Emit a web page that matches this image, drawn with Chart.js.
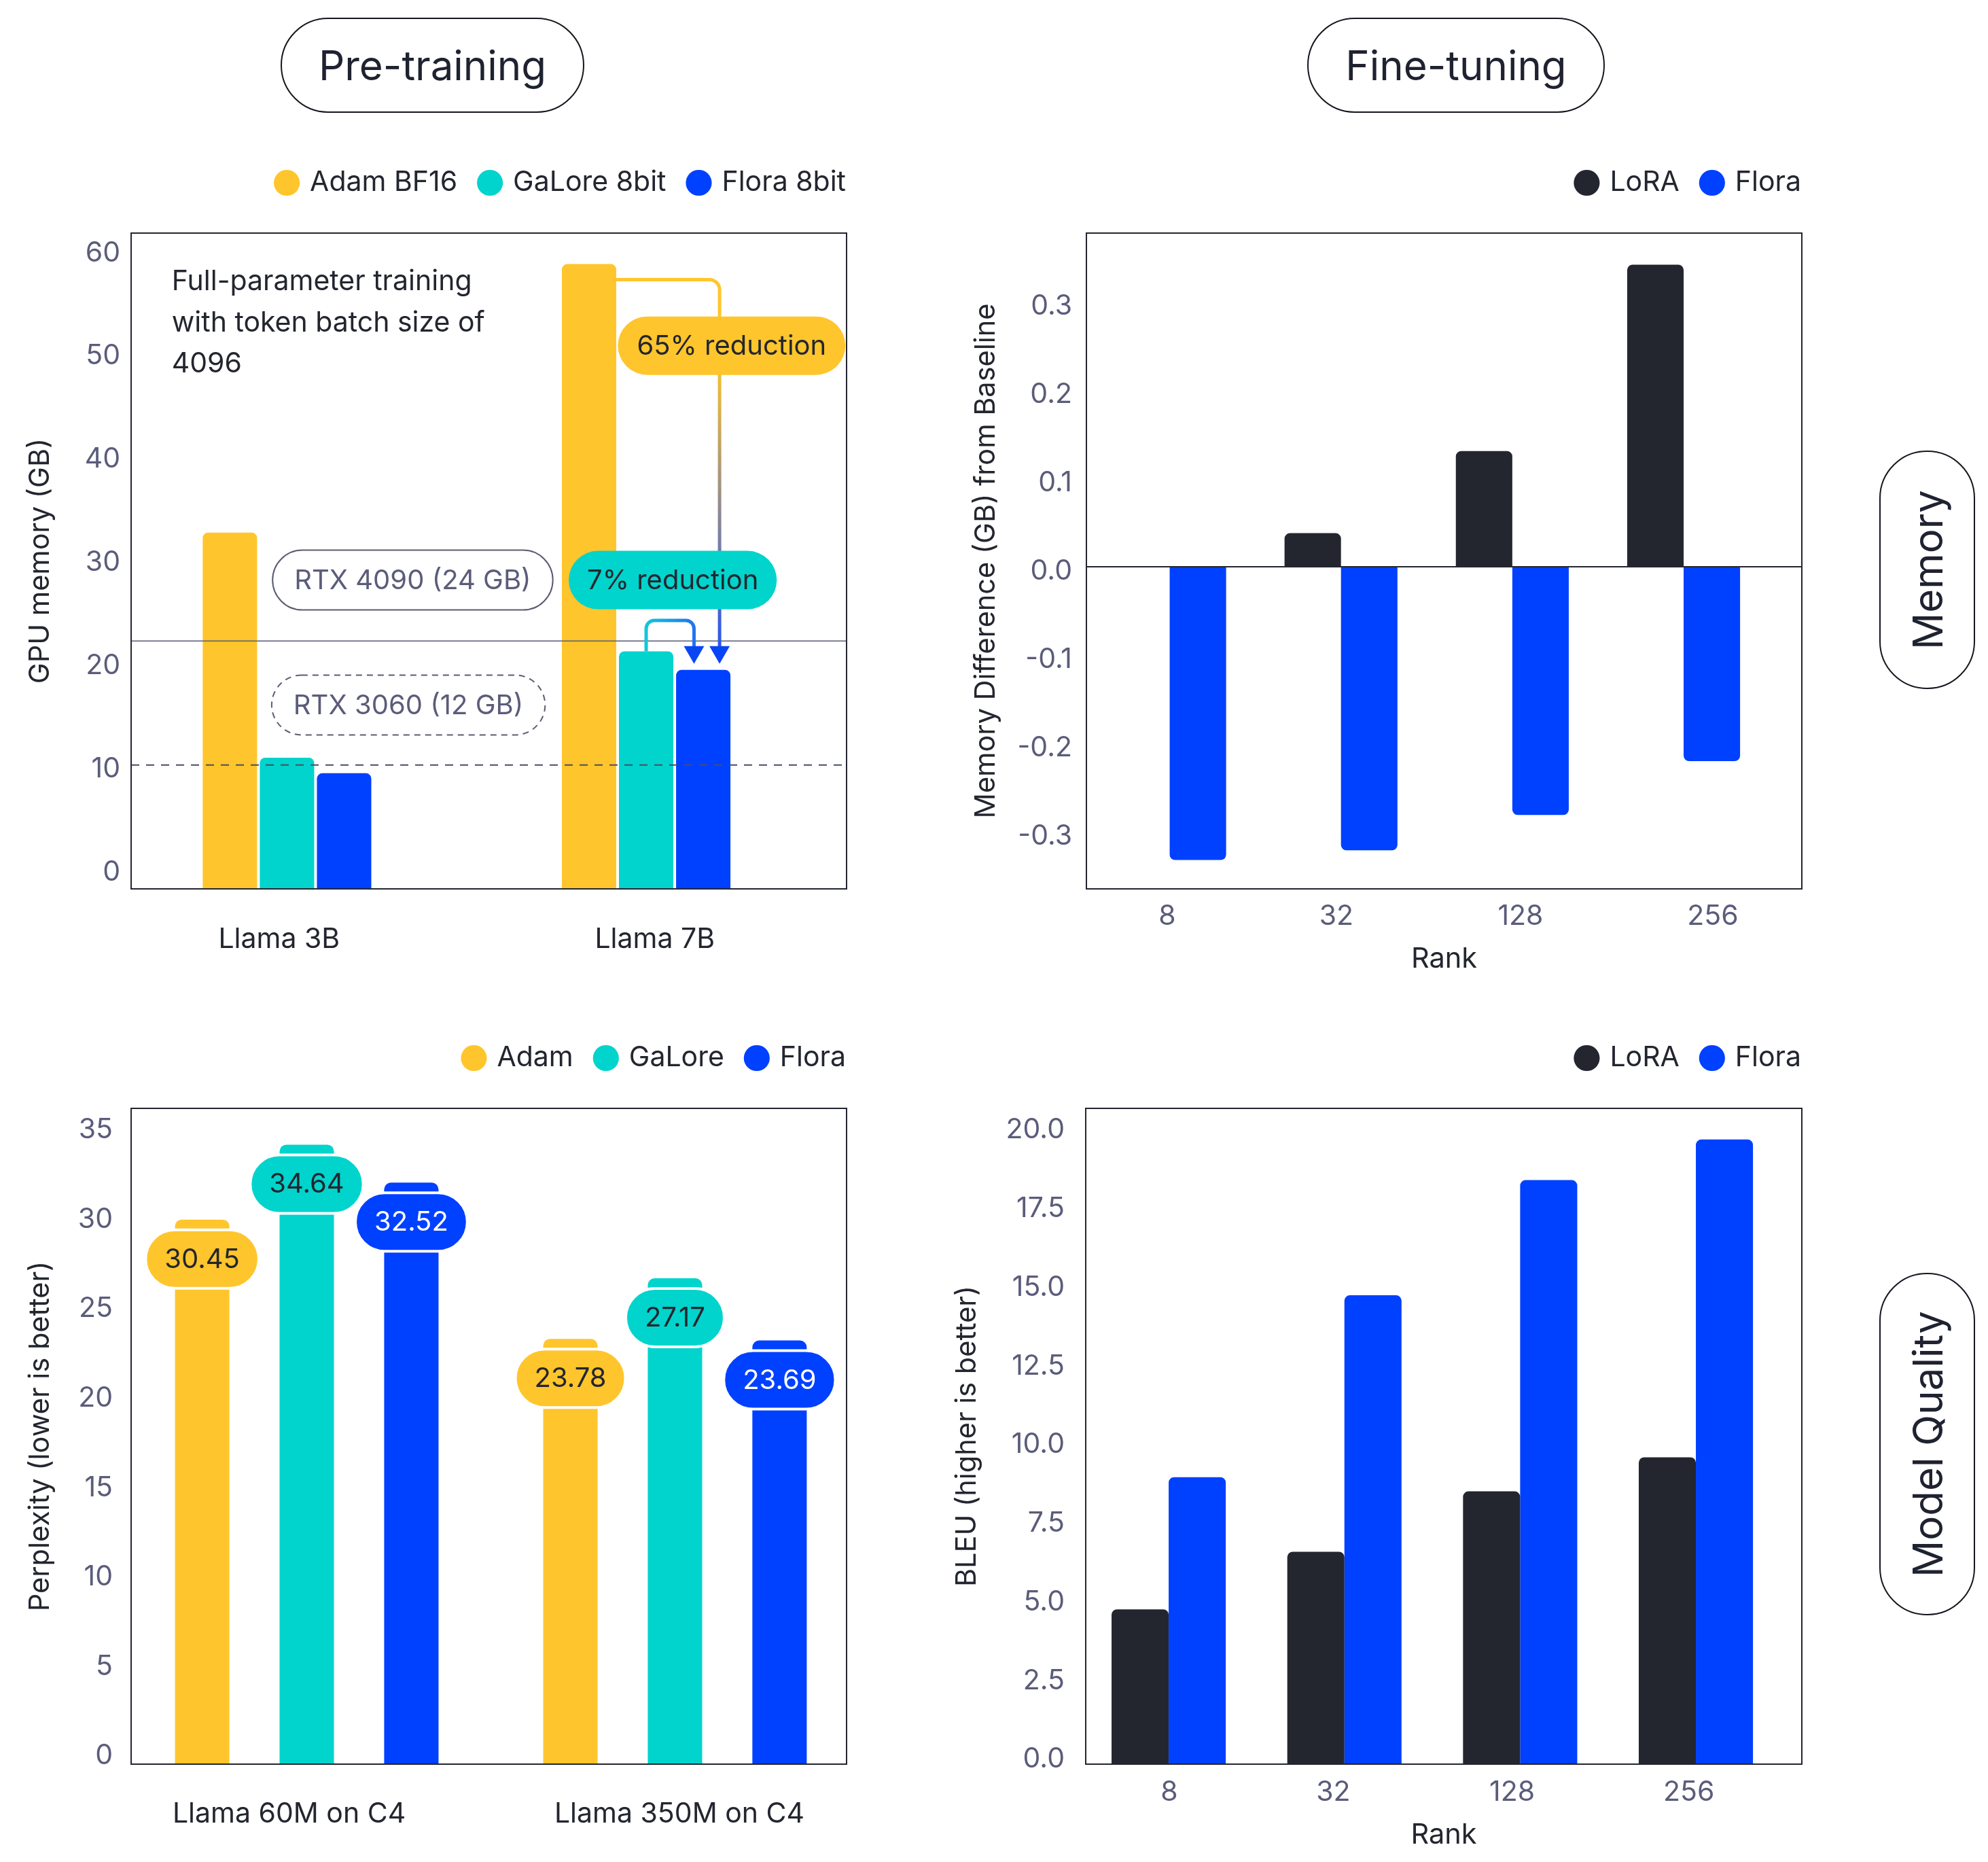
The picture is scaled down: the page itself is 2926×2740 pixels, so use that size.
<!DOCTYPE html>
<html>
<head>
<meta charset="utf-8">
<script src="https://cdn.jsdelivr.net/npm/chart.js@4.4.0/dist/chart.umd.min.js"></script>
<style>
  html, body { margin: 0; background: #fff; }
  body { position: relative; width: 2926px; height: 2740px; overflow: hidden; font-family: Inter, 'Noto Sans', sans-serif; }
  .panel { position: absolute; }
  .tag {
    position: absolute; box-sizing: border-box; border: 2.5px solid #15171f; border-radius: 70px;
    display: flex; align-items: center; justify-content: center;
    font-size: 60px; color: #1f2230;
  }
  .tag.v span { writing-mode: vertical-rl; transform: rotate(180deg); }
</style>
</head>
<body>
<div class="tag" style="left:413px;top:26px;width:447px;height:140px">Pre-training</div>
<div class="tag" style="left:1924px;top:26px;width:438px;height:140px">Fine-tuning</div>
<div class="tag v" style="left:2766px;top:663px;width:141px;height:351px"><span>Memory</span></div>
<div class="tag v" style="left:2766px;top:1873px;width:141px;height:504px"><span>Model Quality</span></div>

<div class="panel" style="left:0;top:200px"><canvas id="preMem" width="1300" height="1300"></canvas></div>
<div class="panel" style="left:1380px;top:200px"><canvas id="ftMem" width="1300" height="1300"></canvas></div>
<div class="panel" style="left:0;top:1480px"><canvas id="prePpl" width="1300" height="1260"></canvas></div>
<div class="panel" style="left:1380px;top:1480px"><canvas id="ftBleu" width="1300" height="1260"></canvas></div>

<script>
// --- data ---
const preCategories = ['Llama 3B', 'Llama 7B'];
const adamBF16 = [34.5, 60.5];
const galore8bit = [12.7, 23.0];
const flora8bit = [11.2, 21.2];
const gpuLimits = [24, 12]; // RTX 4090, RTX 3060

const ranks = ['8', '32', '128', '256'];
const loraMemory = [0, 0.038, 0.131, 0.342];
const floraMemory = [-0.332, -0.321, -0.281, -0.220];

const pplCategories = ['Llama 60M on C4', 'Llama 350M on C4'];
const adamPpl = [30.45, 23.78];
const galorePpl = [34.64, 27.17];
const floraPpl = [32.52, 23.69];

const loraBleu = [4.92, 6.75, 8.67, 9.75];
const floraBleu = [9.12, 14.9, 18.56, 19.85];

// where the x tick labels sit (in bar-group units), as in the original figure
const preTickPos = [-0.022, 1.024];
const memTickPos = [-0.014, 0.973, 2.048, 3.170];
const pplTickPos = [-0.048, 1.012];
const bleuTickPos = [0.003, 0.937, 1.954, 2.960];

// --- style ---
const FONT = "Inter, 'Noto Sans', sans-serif";
const YELLOW = '#FFC52C';
const TEAL = '#00D4CC';
const BLUE = '#0040FF';
const DARK = '#23262F';
const TICK = '#5B5C7A';

Chart.defaults.font.family = FONT;
Chart.defaults.color = DARK;

const points = arr => arr.map((v, i) => ({ x: i, y: v }));
// bar width is measured against the smallest gap between groups or ticks
const tickGap = t => Math.min(1, ...t.slice(1).map((v, i) => v - t[i]));

function roundRectPath(ctx, x, y, w, h, r) {
  ctx.beginPath();
  ctx.moveTo(x + r, y);
  ctx.arcTo(x + w, y, x + w, y + h, r);
  ctx.arcTo(x + w, y + h, x, y + h, r);
  ctx.arcTo(x, y + h, x, y, r);
  ctx.arcTo(x, y, x + w, y, r);
  ctx.closePath();
}

function pill(ctx, cx, cy, text, s) {
  ctx.font = '40px ' + FONT;
  const w = ctx.measureText(text).width + 2 * s.padX;
  const h = s.h || 86;
  roundRectPath(ctx, cx - w / 2, cy - h / 2, w, h, h / 2);
  if (s.fill) { ctx.fillStyle = s.fill; ctx.fill(); }
  if (s.stroke) {
    ctx.setLineDash(s.dash || []);
    ctx.lineWidth = s.lw || 2;
    ctx.strokeStyle = s.stroke;
    ctx.stroke();
    ctx.setLineDash([]);
  }
  ctx.fillStyle = s.color;
  ctx.textAlign = 'center';
  ctx.textBaseline = 'middle';
  ctx.fillText(text, cx, cy + 1);
}

// legend with a fixed height, last label flush with the plot's right edge
function fixedLegend(height) {
  return {
    id: 'fixedLegend',
    beforeLayout(chart) {
      const lg = chart.legend;
      if (!lg || lg._patched) return;
      const fit = lg.fit;
      lg.fit = function () {
        fit.call(this);
        this.height = height;
      };
      lg._patched = true;
    },
    afterLayout(chart) {
      const lg = chart.legend;
      const shift = lg.options.labels.padding - 1;
      lg.right += shift;
      lg.width += shift;
    }
  };
}

const frame = {
  id: 'frame',
  afterDraw(chart) {
    const { ctx, chartArea: a } = chart;
    ctx.save();
    ctx.strokeStyle = DARK;
    ctx.lineWidth = 2;
    ctx.strokeRect(a.left, a.top, a.right - a.left, a.bottom - a.top);
    ctx.restore();
  }
};

function legendOpts() {
  return {
    position: 'top', align: 'end',
    labels: {
      usePointStyle: true, pointStyle: 'circle', boxWidth: 27, boxHeight: 27,
      padding: 34.5, color: DARK, font: { size: 41 }
    }
  };
}

function xAxis(labels, tickPos, min, max, o) {
  return {
    type: 'linear', min, max, offset: false,
    grid: { display: false, drawTicks: false }, border: { display: false },
    afterBuildTicks: s => { s.ticks = tickPos.map(v => ({ value: v })); },
    afterFit: s => { s.height = o.height; },
    ticks: { autoSkip: false, maxRotation: 0, padding: o.pad, color: o.color, font: { size: 41 }, callback: (v, i) => labels[i] },
    title: o.title
      ? { display: true, text: o.title, color: DARK, font: { size: 41.5 }, padding: { top: 0, bottom: o.titlePad } }
      : { display: false }
  };
}

function yAxis(min, max, step, o) {
  return {
    min, max,
    grid: { display: false, drawTicks: false }, border: { display: false },
    afterFit: s => { s.width = o.width; },
    ticks: {
      stepSize: step, includeBounds: false, padding: o.pad, labelOffset: o.offset,
      color: TICK, font: { size: 41 }, callback: o.fmt || (v => v)
    },
    title: { display: true, text: o.title, color: DARK, font: { size: 41.5 }, padding: { top: o.titlePad, bottom: 0 } }
  };
}

const oneDecimal = v => (Math.abs(v) < 1e-9 ? 0 : v).toFixed(1);

// --- Pre-training: GPU memory ---
const preNotes = {
  id: 'preNotes',
  afterDatasetsDraw(chart) {
    const { ctx, chartArea: a, scales: { x, y } } = chart;
    const adam = chart.getDatasetMeta(0).data[1];
    const galore = chart.getDatasetMeta(1).data[1];
    const flora = chart.getDatasetMeta(2).data[1];
    ctx.save();

    // GPU capacity lines
    let py = y.getPixelForValue(gpuLimits[0]);
    ctx.strokeStyle = '#5A5D72';
    ctx.lineWidth = 1.5;
    ctx.beginPath(); ctx.moveTo(a.left, py); ctx.lineTo(a.right, py); ctx.stroke();
    py = y.getPixelForValue(gpuLimits[1]);
    ctx.strokeStyle = '#4A4D63';
    ctx.lineWidth = 2;
    ctx.setLineDash([12, 10]);
    ctx.beginPath(); ctx.moveTo(a.left, py); ctx.lineTo(a.right, py); ctx.stroke();
    ctx.setLineDash([]);

    // note text
    ctx.font = '41px ' + FONT;
    ctx.fillStyle = DARK;
    ctx.textAlign = 'left';
    ctx.textBaseline = 'middle';
    ['Full-parameter training', 'with token batch size of', '4096'].forEach((t, k) => {
      ctx.fillText(t, x.getPixelForValue(-0.321), y.getPixelForValue(58.8 - 4 * k));
    });

    const tip = flora.y - 9;
    const headW = 30, headH = 26;
    ctx.lineWidth = 5;

    // 65% arrow: Adam -> Flora
    const y0 = y.getPixelForValue(59.0);
    const x0 = adam.x + adam.width / 2;
    const x1 = flora.x + flora.width * 0.3;
    let r = 15;
    const g1 = ctx.createLinearGradient(0, y0, 0, tip);
    g1.addColorStop(0, YELLOW);
    g1.addColorStop(0.2, YELLOW);
    g1.addColorStop(1, '#1F4FF5');
    ctx.strokeStyle = g1;
    ctx.beginPath();
    ctx.moveTo(x0, y0);
    ctx.lineTo(x1 - r, y0);
    ctx.arcTo(x1, y0, x1, y0 + r, r);
    ctx.lineTo(x1, tip - headH + 2);
    ctx.stroke();

    // 7% arrow: GaLore -> Flora
    const xs = galore.x;
    const yh = y.getPixelForValue(26.0);
    const xe = flora.x - flora.width * 0.17;
    r = 12;
    const g2 = ctx.createLinearGradient(xs, 0, xe, 0);
    g2.addColorStop(0, '#12C6DA');
    g2.addColorStop(1, '#1F74F2');
    ctx.strokeStyle = g2;
    ctx.beginPath();
    ctx.moveTo(xs, galore.y);
    ctx.lineTo(xs, yh + r);
    ctx.arcTo(xs, yh, xs + r, yh, r);
    ctx.lineTo(xe - r, yh);
    ctx.arcTo(xe, yh, xe, yh + r, r);
    ctx.lineTo(xe, tip - headH + 2);
    ctx.stroke();

    ctx.fillStyle = '#0A45F5';
    [x1, xe].forEach(hx => {
      ctx.beginPath();
      ctx.moveTo(hx - headW / 2, tip - headH);
      ctx.lineTo(hx + headW / 2, tip - headH);
      ctx.lineTo(hx, tip);
      ctx.closePath();
      ctx.fill();
    });

    // pills
    pill(ctx, x.getPixelForValue(1.238), y.getPixelForValue(52.6), '65% reduction', { fill: YELLOW, color: DARK, padX: 28 });
    pill(ctx, x.getPixelForValue(1.074), y.getPixelForValue(29.9), '7% reduction', { fill: TEAL, color: DARK, padX: 27 });
    pill(ctx, x.getPixelForValue(0.350), y.getPixelForValue(29.9), 'RTX 4090 (24 GB)', { stroke: '#5A5D72', color: TICK, padX: 32, h: 88 });
    pill(ctx, x.getPixelForValue(0.338), y.getPixelForValue(17.8), 'RTX 3060 (12 GB)', { stroke: '#5A5D72', dash: [9, 7], color: TICK, padX: 32, h: 88 });
    ctx.restore();
  }
};

new Chart(document.getElementById('preMem'), {
  type: 'bar',
  data: {
    datasets: [
      { label: 'Adam BF16', data: points(adamBF16), backgroundColor: YELLOW },
      { label: 'GaLore 8bit', data: points(galore8bit), backgroundColor: TEAL },
      { label: 'Flora 8bit', data: points(flora8bit), backgroundColor: BLUE }
    ]
  },
  options: {
    responsive: false, animation: false, devicePixelRatio: 1,
    layout: { padding: { top: 14, right: 54, left: 0, bottom: 0 } },
    datasets: { bar: { borderRadius: 8, barPercentage: 0.952, categoryPercentage: 0.477 / tickGap(preTickPos) } },
    plugins: { legend: legendOpts(), tooltip: { enabled: false } },
    scales: {
      x: xAxis(preCategories, preTickPos, -0.434, 1.558, { height: 192, pad: 50, color: DARK }),
      y: yAxis(0, 63.5, 10, { width: 193, pad: 16, offset: -24, title: 'GPU memory (GB)', titlePad: 35 })
    }
  },
  plugins: [fixedLegend(129), preNotes, frame]
});

// --- Fine-tuning: memory difference ---
const zeroLine = {
  id: 'zeroLine',
  afterDatasetsDraw(chart) {
    const { ctx, chartArea: a, scales: { y } } = chart;
    const py = y.getPixelForValue(0);
    ctx.save();
    ctx.strokeStyle = DARK;
    ctx.lineWidth = 2;
    ctx.beginPath(); ctx.moveTo(a.left, py); ctx.lineTo(a.right, py); ctx.stroke();
    ctx.restore();
  }
};

new Chart(document.getElementById('ftMem'), {
  type: 'bar',
  data: {
    datasets: [
      { label: 'LoRA', data: points(loraMemory), backgroundColor: DARK },
      { label: 'Flora', data: points(floraMemory), backgroundColor: BLUE }
    ]
  },
  options: {
    responsive: false, animation: false, devicePixelRatio: 1,
    layout: { padding: { top: 14, right: 28, left: 0, bottom: 0 } },
    datasets: { bar: { borderRadius: 8, barPercentage: 1, categoryPercentage: 0.659 / tickGap(memTickPos) } },
    plugins: { legend: legendOpts(), tooltip: { enabled: false } },
    scales: {
      x: xAxis(ranks, memTickPos, -0.486, 3.69, { height: 192, pad: 16, color: TICK, title: 'Rank', titlePad: 64 }),
      y: yAxis(-0.3646, 0.3777, 0.1, { width: 219, pad: 21, offset: 7, fmt: oneDecimal, title: 'Memory Difference (GB) from Baseline', titlePad: 47 })
    }
  },
  plugins: [fixedLegend(129), zeroLine, frame]
});

// --- Pre-training: perplexity ---
const pplTextColors = [DARK, DARK, '#FFFFFF'];
const valuePills = {
  id: 'valuePills',
  afterDatasetsDraw(chart) {
    const { ctx } = chart;
    ctx.save();
    chart.data.datasets.forEach((ds, di) => {
      chart.getDatasetMeta(di).data.forEach((bar, i) => {
        pill(ctx, bar.x, bar.y + 58, ds.data[i].y.toFixed(2), {
          fill: ds.backgroundColor, stroke: '#FFFFFF', lw: 4, color: pplTextColors[di], padX: 28, h: 86
        });
      });
    });
    ctx.restore();
  }
};

new Chart(document.getElementById('prePpl'), {
  type: 'bar',
  data: {
    datasets: [
      { label: 'Adam', data: points(adamPpl), backgroundColor: YELLOW },
      { label: 'GaLore', data: points(galorePpl), backgroundColor: TEAL },
      { label: 'Flora', data: points(floraPpl), backgroundColor: BLUE }
    ]
  },
  options: {
    responsive: false, animation: false, devicePixelRatio: 1,
    layout: { padding: { top: 22, right: 54, left: 0, bottom: 0 } },
    datasets: { bar: { borderRadius: 10, barPercentage: 0.52, categoryPercentage: 0.852 / tickGap(pplTickPos) } },
    plugins: { legend: legendOpts(), tooltip: { enabled: false } },
    scales: {
      x: xAxis(pplCategories, pplTickPos, -0.477, 1.466, { height: 144, pad: 49, color: DARK }),
      y: yAxis(0, 36.67, 5, { width: 193, pad: 27, offset: -12, title: 'Perplexity (lower is better)', titlePad: 35 })
    }
  },
  plugins: [fixedLegend(129), valuePills, frame]
});

// --- Fine-tuning: BLEU ---
new Chart(document.getElementById('ftBleu'), {
  type: 'bar',
  data: {
    datasets: [
      { label: 'LoRA', data: points(loraBleu), backgroundColor: DARK },
      { label: 'Flora', data: points(floraBleu), backgroundColor: BLUE }
    ]
  },
  options: {
    responsive: false, animation: false, devicePixelRatio: 1,
    layout: { padding: { top: 22, right: 28, left: 0, bottom: 0 } },
    datasets: { bar: { borderRadius: 8, barPercentage: 1, categoryPercentage: 0.65 / tickGap(bleuTickPos) } },
    plugins: { legend: legendOpts(), tooltip: { enabled: false } },
    scales: {
      x: xAxis(ranks, bleuTickPos, -0.472, 3.603, { height: 144, pad: 17, color: TICK, title: 'Rank', titlePad: 15 }),
      y: yAxis(0, 20.84, 2.5, { width: 218, pad: 31, offset: -7, fmt: oneDecimal, title: 'BLEU (higher is better)', titlePad: 19 })
    }
  },
  plugins: [fixedLegend(129), frame]
});
</script>
</body>
</html>
